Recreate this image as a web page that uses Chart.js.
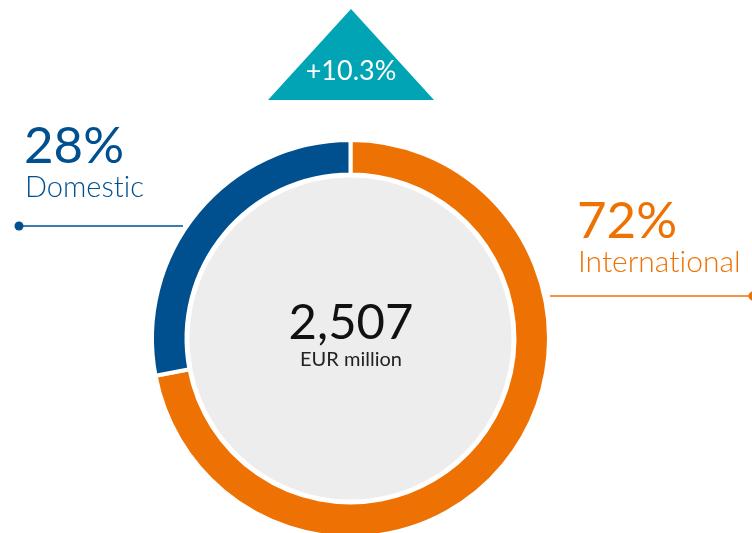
<!DOCTYPE html>
<html><head><meta charset="utf-8">
<script src="https://cdn.jsdelivr.net/npm/chart.js@4"></script>
<style>
html,body{margin:0;padding:0;width:752px;height:533px;overflow:hidden;background:#fff;font-family:Lato,"Noto Sans",sans-serif;}
#wrap{position:absolute;left:0;top:0;width:752px;height:700px;}
.t{position:absolute;line-height:1;white-space:nowrap;font-variant-ligatures:none;font-feature-settings:"liga" 0,"dlig" 0;}
</style></head><body>
<div id="wrap"><canvas id="c" width="752" height="700"></canvas></div>
<div class="t" id="domPct" style="left:24px;top:118px;font-size:51px;color:#00508F;font-weight:400;">28%</div>
<div class="t" id="domLbl" style="left:25px;top:171px;font-size:29px;color:#00508F;font-weight:300;">Domestic</div>
<div class="t" id="intPct" style="left:577px;top:193px;font-size:51px;color:#EE7203;font-weight:400;">72%</div>
<div class="t" id="intLbl" style="left:578px;top:245px;font-size:30px;color:#EE7203;font-weight:300;">International</div>
<div class="t" id="total" style="left:251px;width:200px;text-align:center;top:296px;font-size:49px;color:#111;font-weight:400;">2,507</div>
<div class="t" id="unit" style="left:251px;width:200px;text-align:center;top:348px;font-size:20px;color:#222;font-weight:400;">EUR million</div>
<div class="t" id="growth" style="left:251px;width:200px;text-align:center;top:56px;font-size:27px;color:#fff;font-weight:400;">+10.3%</div>
<script>
const categories = ["International", "Domestic"];
const shares = [72, 28];
const colors = ["#EE7203", "#00508F"];
const totalLabel = "2,507";
const unitLabel = "EUR million";
const growthLabel = "+10.3%";

document.getElementById('total').textContent = totalLabel;
document.getElementById('unit').textContent = unitLabel;
document.getElementById('growth').textContent = growthLabel;
document.getElementById('intPct').textContent = shares[0] + '%';
document.getElementById('domPct').textContent = shares[1] + '%';
document.getElementById('intLbl').textContent = categories[0];
document.getElementById('domLbl').textContent = categories[1];

const decor = {
  id: 'decor',
  beforeDatasetsDraw(chart) {
    const arc = chart.getDatasetMeta(0).data[0];
    const ctx = chart.ctx;
    ctx.save();
    ctx.fillStyle = '#EDEDED';
    ctx.beginPath();
    ctx.arc(arc.x, arc.y, 161, 0, Math.PI * 2);
    ctx.fill();
    ctx.restore();
  },
  afterDraw(chart) {
    const ctx = chart.ctx;
    ctx.save();
    ctx.fillStyle = '#00A4B5';
    ctx.beginPath();
    ctx.moveTo(351, 9);
    ctx.lineTo(434, 100);
    ctx.lineTo(268, 100);
    ctx.closePath();
    ctx.fill();
    ctx.lineWidth = 1.5;
    ctx.strokeStyle = colors[1];
    ctx.fillStyle = colors[1];
    ctx.beginPath(); ctx.moveTo(19, 226); ctx.lineTo(183, 226); ctx.stroke();
    ctx.beginPath(); ctx.arc(19, 226, 4.5, 0, Math.PI * 2); ctx.fill();
    ctx.strokeStyle = colors[0];
    ctx.fillStyle = colors[0];
    ctx.beginPath(); ctx.moveTo(550, 296); ctx.lineTo(752, 296); ctx.stroke();
    ctx.beginPath(); ctx.arc(753, 296, 4.5, 0, Math.PI * 2); ctx.fill();
    ctx.restore();
  }
};

new Chart(document.getElementById('c'), {
  type: 'doughnut',
  data: {
    labels: categories,
    datasets: [{
      data: shares,
      backgroundColor: colors,
      borderColor: '#ffffff',
      borderWidth: 4,
      hoverOffset: 0
    }]
  },
  options: {
    responsive: false,
    animation: false,
    radius: 198.5,
    cutout: '82.6%',
    layout: { padding: { left: 0, right: 51, top: 0, bottom: 23 } },
    plugins: { legend: { display: false }, tooltip: { enabled: false } }
  },
  plugins: [decor]
});
</script>
</body></html>
